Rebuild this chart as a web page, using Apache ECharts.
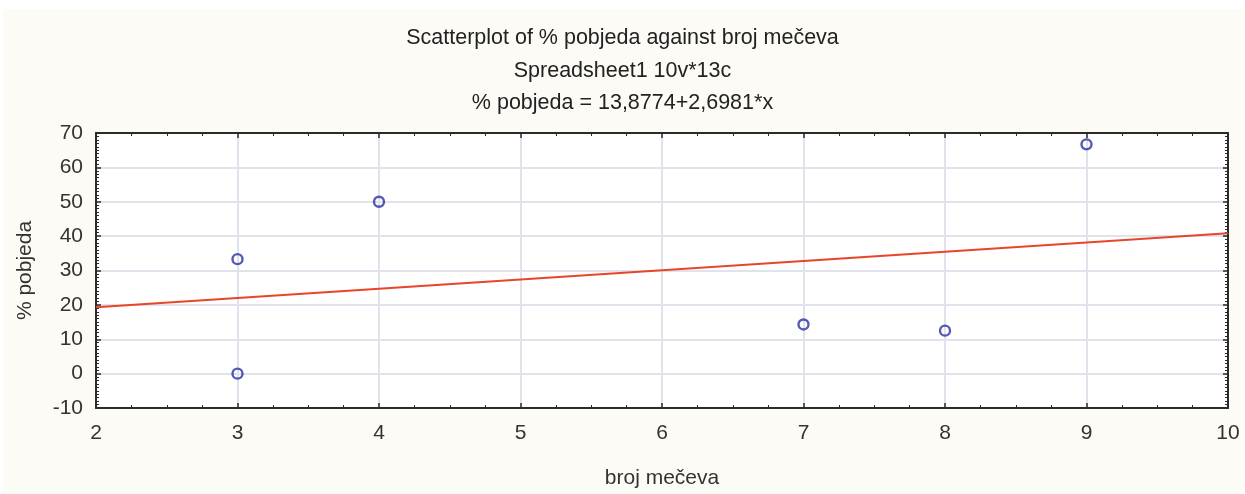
<!DOCTYPE html>
<html>
<head>
<meta charset="utf-8">
<script src="https://cdn.jsdelivr.net/npm/echarts@6/dist/echarts.min.js"></script>
<style>html,body{margin:0;padding:0;background:#fff;}#c{width:1245px;height:494px;}</style>
</head>
<body>
<div id="c"></div>
<script>
const titleLines = ["Scatterplot of % pobjeda against broj mečeva", "Spreadsheet1 10v*13c", "% pobjeda = 13,8774+2,6981*x"];
const xName = "broj mečeva";
const yName = "% pobjeda";
const brojMeceva = [3, 3, 4, 7, 8, 9];
const postoPobjeda = [33.3, 0, 50, 14.3, 12.5, 66.7];
const intercept = 13.8774;
const slope = 2.6981;
const xRange = [2, 10];
const yRange = [-10, 70];

const points = brojMeceva.map((x, i) => [x, postoPobjeda[i]]);
const fitLine = xRange.map(x => [x, intercept + slope * x]);

const chart = echarts.init(document.getElementById('c'), null, {renderer: 'canvas'});
const font = 'Liberation Sans, Arial, sans-serif';
const axisCommon = {
  axisLine: {show: true, onZero: false, lineStyle: {color: '#2b2b2b', width: 2}},
  axisTick: {show: true, inside: true, length: 5, lineStyle: {color: '#2b2b2b', width: 1.5}},
};
const titleTops = [27, 60, 92];
const option = {
  backgroundColor: '#ffffff',
  animation: false,
  graphic: [{
    type: 'rect', z: -10, silent: true,
    shape: {x: 3, y: 9, width: 1240, height: 485},
    style: {fill: '#fcfbf6'}
  }],
  title: titleLines.map((t, i) => ({
    text: t, left: 'center', top: titleTops[i], padding: 0,
    textStyle: {fontFamily: font, fontSize: 21.5, fontWeight: 'normal', color: '#222'}
  })),
  grid: {left: 96, right: 17, top: 133, bottom: 85, show: true, backgroundColor: '#ffffff', borderWidth: 0, containLabel: false},
  xAxis: [
    Object.assign({}, axisCommon, {
      type: 'value', min: xRange[0], max: xRange[1], interval: 1, position: 'bottom',
      name: xName, nameLocation: 'middle', nameGap: 60,
      nameTextStyle: {fontFamily: font, fontSize: 21, color: '#333'},
      axisLabel: {fontFamily: font, fontSize: 21, color: '#333', margin: 15},
      splitLine: {show: true, lineStyle: {color: '#e1e3ec', width: 2}},
      minorTick: {show: true, splitNumber: 4, length: 3, lineStyle: {color: '#2b2b2b', width: 1}},
    }),
    Object.assign({}, axisCommon, {
      type: 'value', min: xRange[0], max: xRange[1], interval: 1, position: 'top',
      axisLabel: {show: false}, splitLine: {show: false},
      minorTick: {show: true, splitNumber: 4, length: 3, lineStyle: {color: '#2b2b2b', width: 1}},
    })
  ],
  yAxis: [
    Object.assign({}, axisCommon, {
      type: 'value', min: yRange[0], max: yRange[1], interval: 10, position: 'left',
      name: yName, nameLocation: 'middle', nameGap: 60, nameRotate: 90,
      nameTextStyle: {fontFamily: font, fontSize: 21, color: '#333'},
      axisLabel: {fontFamily: font, fontSize: 21, color: '#333', margin: 13},
      splitLine: {show: true, lineStyle: {color: '#e1e3ec', width: 2}},
      minorTick: {show: true, splitNumber: 10, length: 3, lineStyle: {color: '#2b2b2b', width: 1}},
    }),
    Object.assign({}, axisCommon, {
      type: 'value', min: yRange[0], max: yRange[1], interval: 10, position: 'right',
      axisLabel: {show: false}, splitLine: {show: false},
      minorTick: {show: true, splitNumber: 10, length: 3, lineStyle: {color: '#2b2b2b', width: 1}},
    })
  ],
  series: [
    {
      type: 'line', data: fitLine, xAxisIndex: 0, yAxisIndex: 0,
      symbol: 'none', lineStyle: {color: '#e8452a', width: 2}, z: 3
    },
    {
      type: 'scatter', data: points, xAxisIndex: 0, yAxisIndex: 0,
      symbol: 'circle', symbolSize: 10,
      itemStyle: {color: 'rgba(0,0,0,0)', borderColor: '#2a31a0', borderWidth: 2.4}, z: 4
    }
  ]
};
chart.setOption(option);
</script>
</body>
</html>
